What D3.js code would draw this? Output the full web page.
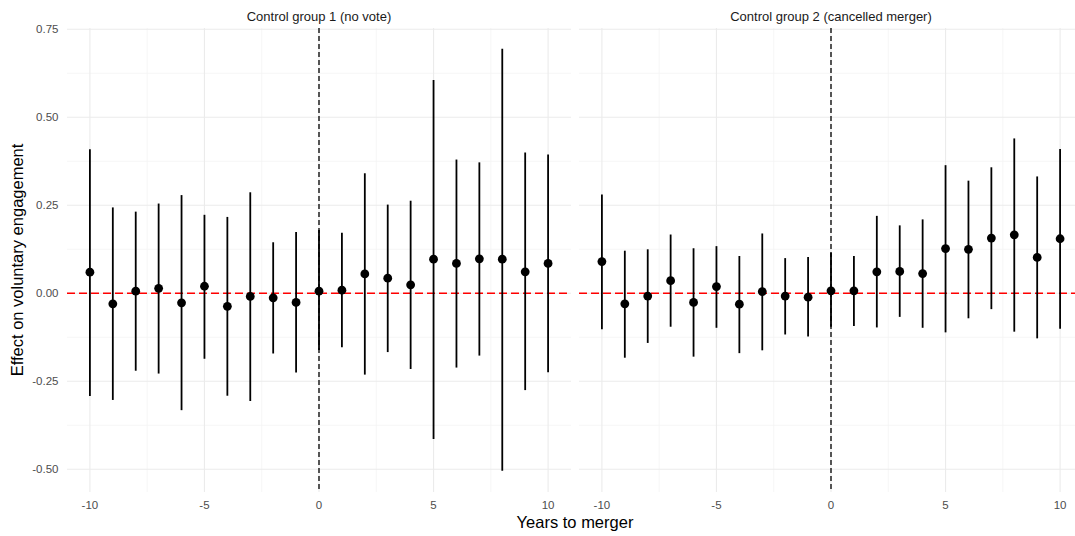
<!DOCTYPE html>
<html>
<head>
<meta charset="utf-8">
<script src="https://cdn.jsdelivr.net/npm/d3@7"></script>
<style>
  body { margin: 0; background: #fff; }
  text { font-family: "Liberation Sans", Arial, sans-serif; }
</style>
</head>
<body>
<div id="chart"></div>
<script>
// years relative to merger
const years = [-10, -9, -8, -7, -6, -5, -4, -3, -2, -1, 0, 1, 2, 3, 4, 5, 6, 7, 8, 9, 10];

const panelTitles = ["Control group 1 (no vote)", "Control group 2 (cancelled merger)"];

// control group 1 (no vote)
const est1 = [0.060, -0.030, 0.006, 0.014, -0.027, 0.020, -0.037, -0.009, -0.013, -0.026, 0.006,
              0.009, 0.055, 0.043, 0.024, 0.097, 0.085, 0.098, 0.097, 0.061, 0.085];
const lo1  = [-0.292, -0.303, -0.220, -0.228, -0.332, -0.186, -0.291, -0.306, -0.171, -0.225, -0.161,
              -0.153, -0.231, -0.167, -0.215, -0.414, -0.211, -0.177, -0.504, -0.275, -0.224];
const hi1  = [0.409, 0.244, 0.232, 0.255, 0.279, 0.223, 0.217, 0.287, 0.145, 0.174, 0.180,
              0.172, 0.341, 0.252, 0.263, 0.606, 0.380, 0.372, 0.695, 0.400, 0.394];

// control group 2 (cancelled merger)
const est2 = [0.090, -0.030, -0.008, 0.036, -0.026, 0.019, -0.031, 0.005, -0.008, -0.011, 0.007,
              0.007, 0.061, 0.062, 0.056, 0.127, 0.125, 0.157, 0.166, 0.102, 0.155];
const lo2  = [-0.102, -0.183, -0.141, -0.095, -0.180, -0.098, -0.170, -0.162, -0.117, -0.123, -0.095,
              -0.093, -0.097, -0.067, -0.098, -0.111, -0.071, -0.045, -0.109, -0.128, -0.101];
const hi2  = [0.281, 0.121, 0.125, 0.167, 0.128, 0.134, 0.106, 0.170, 0.100, 0.103, 0.115,
              0.106, 0.220, 0.193, 0.210, 0.364, 0.320, 0.358, 0.440, 0.332, 0.410];

const xTicks = [-10, -5, 0, 5, 10];
const xMinor = [-7.5, -2.5, 2.5, 7.5];
const yTicks = [-0.50, -0.25, 0.00, 0.25, 0.50, 0.75];
const yMinor = [-0.375, -0.125, 0.125, 0.375, 0.625];

const W = 1075, H = 536;
const svg = d3.select('#chart').append('svg')
    .attr('width', W).attr('height', H);

// shared y scale
const y = d3.scaleLinear().domain([-0.5645, 0.7537]).range([492, 28]);

const panels = [
    { title: panelTitles[0], est: est1, lo: lo1, hi: hi1, x0: 67, x1: 571 },
    { title: panelTitles[1], est: est2, lo: lo2, hi: hi2, x0: 579, x1: 1083 }
];

panels.forEach(function (p) {
    const x = d3.scaleLinear().domain([-11, 11]).range([p.x0, p.x1]);
    const g = svg.append('g');

    // minor grid
    g.selectAll('.ymin').data(yMinor).enter().append('line')
        .attr('x1', p.x0).attr('x2', p.x1)
        .attr('y1', d => y(d)).attr('y2', d => y(d))
        .attr('stroke', '#f4f4f4').attr('stroke-width', 0.8);
    g.selectAll('.xmin').data(xMinor).enter().append('line')
        .attr('x1', d => x(d)).attr('x2', d => x(d))
        .attr('y1', y.range()[1]).attr('y2', y.range()[0])
        .attr('stroke', '#f4f4f4').attr('stroke-width', 0.8);
    // major grid
    g.selectAll('.ymaj').data(yTicks).enter().append('line')
        .attr('x1', p.x0).attr('x2', p.x1)
        .attr('y1', d => y(d)).attr('y2', d => y(d))
        .attr('stroke', '#ebebeb').attr('stroke-width', 1.1);
    g.selectAll('.xmaj').data(xTicks).enter().append('line')
        .attr('x1', d => x(d)).attr('x2', d => x(d))
        .attr('y1', y.range()[1]).attr('y2', y.range()[0])
        .attr('stroke', '#ebebeb').attr('stroke-width', 1.1);

    // zero reference line
    g.append('line')
        .attr('x1', p.x0).attr('x2', p.x1)
        .attr('y1', y(0)).attr('y2', y(0))
        .attr('stroke', '#ff0000').attr('stroke-width', 1.6)
        .attr('stroke-dasharray', '8,4');
    // merger year line
    g.append('line')
        .attr('x1', x(0)).attr('x2', x(0))
        .attr('y1', y.range()[1]).attr('y2', y.range()[0])
        .attr('stroke', '#000').attr('stroke-width', 1.3)
        .attr('stroke-dasharray', '5,3');

    // error bars
    g.selectAll('.bar').data(years).enter().append('line')
        .attr('x1', d => x(d)).attr('x2', d => x(d))
        .attr('y1', (d, i) => y(p.lo[i])).attr('y2', (d, i) => y(p.hi[i]))
        .attr('stroke', '#000').attr('stroke-width', 1.8);
    // estimates
    g.selectAll('.pt').data(years).enter().append('circle')
        .attr('cx', d => x(d)).attr('cy', (d, i) => y(p.est[i]))
        .attr('r', 4.4).attr('fill', '#000');

    // x tick labels
    g.selectAll('.xt').data(xTicks).enter().append('text')
        .attr('x', d => x(d)).attr('y', 509)
        .attr('text-anchor', 'middle')
        .attr('font-size', 11.5).attr('fill', '#4d4d4d')
        .text(d => String(d));

    // strip title
    g.append('text')
        .attr('x', (p.x0 + p.x1) / 2).attr('y', 21)
        .attr('text-anchor', 'middle')
        .attr('font-size', 13).attr('fill', '#1a1a1a')
        .text(p.title);
});

// y tick labels (left panel only)
svg.selectAll('.yt').data(yTicks).enter().append('text')
    .attr('x', 58.5).attr('y', d => y(d) + 4)
    .attr('text-anchor', 'end')
    .attr('font-size', 11.5).attr('fill', '#4d4d4d')
    .text(d => d.toFixed(2));

// axis titles
svg.append('text')
    .attr('x', 575).attr('y', 528)
    .attr('text-anchor', 'middle')
    .attr('font-size', 16.5).attr('fill', '#000')
    .text('Years to merger');

svg.append('text')
    .attr('transform', 'translate(23,260) rotate(-90)')
    .attr('text-anchor', 'middle')
    .attr('font-size', 16.5).attr('fill', '#000')
    .text('Effect on voluntary engagement');
</script>
</body>
</html>
